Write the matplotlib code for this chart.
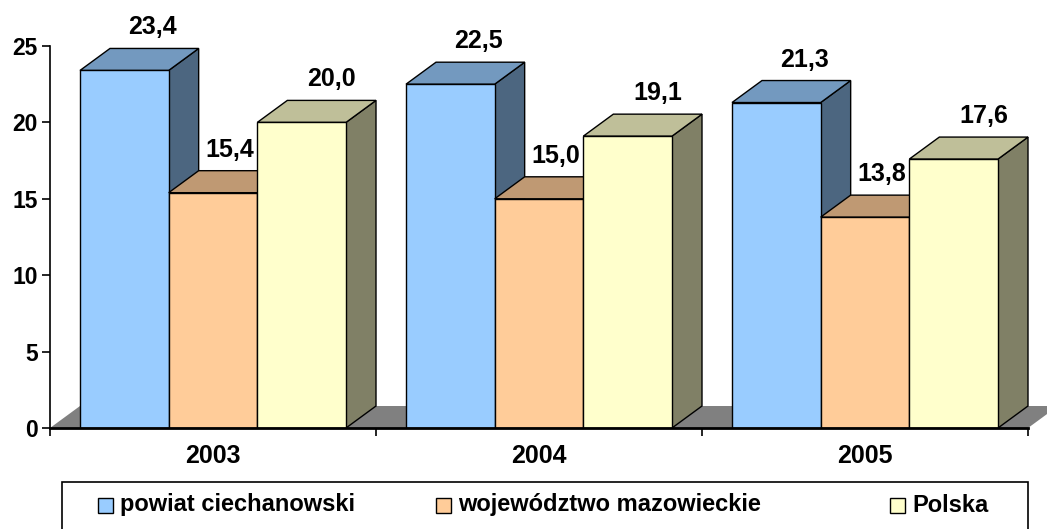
import matplotlib
matplotlib.use("Agg")
import matplotlib.pyplot as plt
from matplotlib.patches import Polygon, Rectangle

plt.rcParams['font.family'] = ['Liberation Sans', 'DejaVu Sans']

years = ["2003", "2004", "2005"]
series = ["powiat ciechanowski", "województwo mazowieckie", "Polska"]
powiat = [23.4, 22.5, 21.3]
wojewodztwo = [15.4, 15.0, 13.8]
polska = [20.0, 19.1, 17.6]
values = [powiat, wojewodztwo, polska]
labels = [["23,4", "22,5", "21,3"], ["15,4", "15,0", "13,8"], ["20,0", "19,1", "17,6"]]

front = ["#99CCFF", "#FFCC99", "#FFFFCC"]
top = ["#7399BF", "#BF9973", "#BFBF99"]
side = ["#4C6680", "#806650", "#808066"]
label_dx = [0.93, 0.55, 1.0]

W, H = 1047, 529
fig = plt.figure(figsize=(W / 100, H / 100), dpi=100)
ax_l, ax_b, ax_r, ax_t = 50, 428, 1028, 46
ax = fig.add_axes([ax_l / W, (H - ax_b) / H, (ax_r - ax_l) / W, (ax_b - ax_t) / H])
ax.set_xlim(0, 3)
ax.set_ylim(0, 25)

px_x = 3 / (ax_r - ax_l)
px_y = 25 / (ax_b - ax_t)
dx = 30 * px_x
dy = 22 * px_y

gap = 30 * px_x
bw = (1 - 2 * gap) / 3

# floor
floor = Polygon([(0, 0), (3, 0), (3 + dx, dy), (dx, dy)], closed=True,
                facecolor="#808080", edgecolor="none", zorder=0.5, clip_on=False)
ax.add_patch(floor)

z = 1
for i in range(3):
    for k in range(3):
        v = values[k][i]
        x0 = i + gap + k * bw
        x1 = x0 + bw
        ax.bar(x0, v, width=bw, align="edge", color=front[k], edgecolor="black",
               linewidth=1.0, zorder=z + 0.2)
        ax.add_patch(Polygon([(x0, v), (x1, v), (x1 + dx, v + dy), (x0 + dx, v + dy)],
                             closed=True, facecolor=top[k], edgecolor="black",
                             linewidth=1.0, zorder=z + 0.1, clip_on=False))
        ax.add_patch(Polygon([(x1, 0), (x1 + dx, dy), (x1 + dx, v + dy), (x1, v)],
                             closed=True, facecolor=side[k], edgecolor="black",
                             linewidth=1.0, zorder=z, clip_on=False))
        ax.annotate(labels[k][i], xy=(x0 + bw / 2 + dx * label_dx[k], v + dy),
                    xytext=(0, 14), textcoords="offset pixels", ha="center",
                    va="baseline", fontsize=18, fontweight="bold", zorder=20,
                    annotation_clip=False)
        z += 1

for s in ["top", "right"]:
    ax.spines[s].set_visible(False)
ax.spines["left"].set_linewidth(1.2)
ax.spines["bottom"].set_linewidth(2.0)
ax.spines["bottom"].set_zorder(30)
ax.spines["left"].set_zorder(30)

ax.set_yticks([0, 5, 10, 15, 20, 25])
ax.set_yticklabels(["0", "5", "10", "15", "20", "25"], fontsize=16.5, fontweight="bold")
ax.tick_params(axis="y", direction="out", length=6, width=1.2, pad=3)
ax.set_xticks([0, 1, 2, 3])
ax.set_xticklabels([])
ax.set_xticks([0.5, 1.5, 2.5], minor=True)
ax.set_xticklabels(years, minor=True, fontsize=18, fontweight="bold")
ax.tick_params(axis="x", which="major", direction="out", length=6, width=1.2)
ax.tick_params(axis="x", which="minor", length=0, pad=11.5)
ax.patch.set_visible(False)

# legend box
leg_l, leg_t = 62, 482
fig.patches.append(Rectangle((leg_l / W, -0.05), (1028 - leg_l) / W, (H - leg_t) / H + 0.05,
                             transform=fig.transFigure, facecolor="white",
                             edgecolor="black", linewidth=1.2))
marker_x = [98, 436, 890]
text_x = [120, 458, 912]
for k in range(3):
    fig.patches.append(Rectangle((marker_x[k] / W, (H - 513) / H), 15 / W, 15 / H,
                                 transform=fig.transFigure, facecolor=front[k],
                                 edgecolor="black", linewidth=1.0))
    fig.text(text_x[k] / W, (H - 505) / H, series[k], fontsize=17,
             fontweight="bold", ha="left", va="center")

fig.savefig("out.png", dpi=100)
